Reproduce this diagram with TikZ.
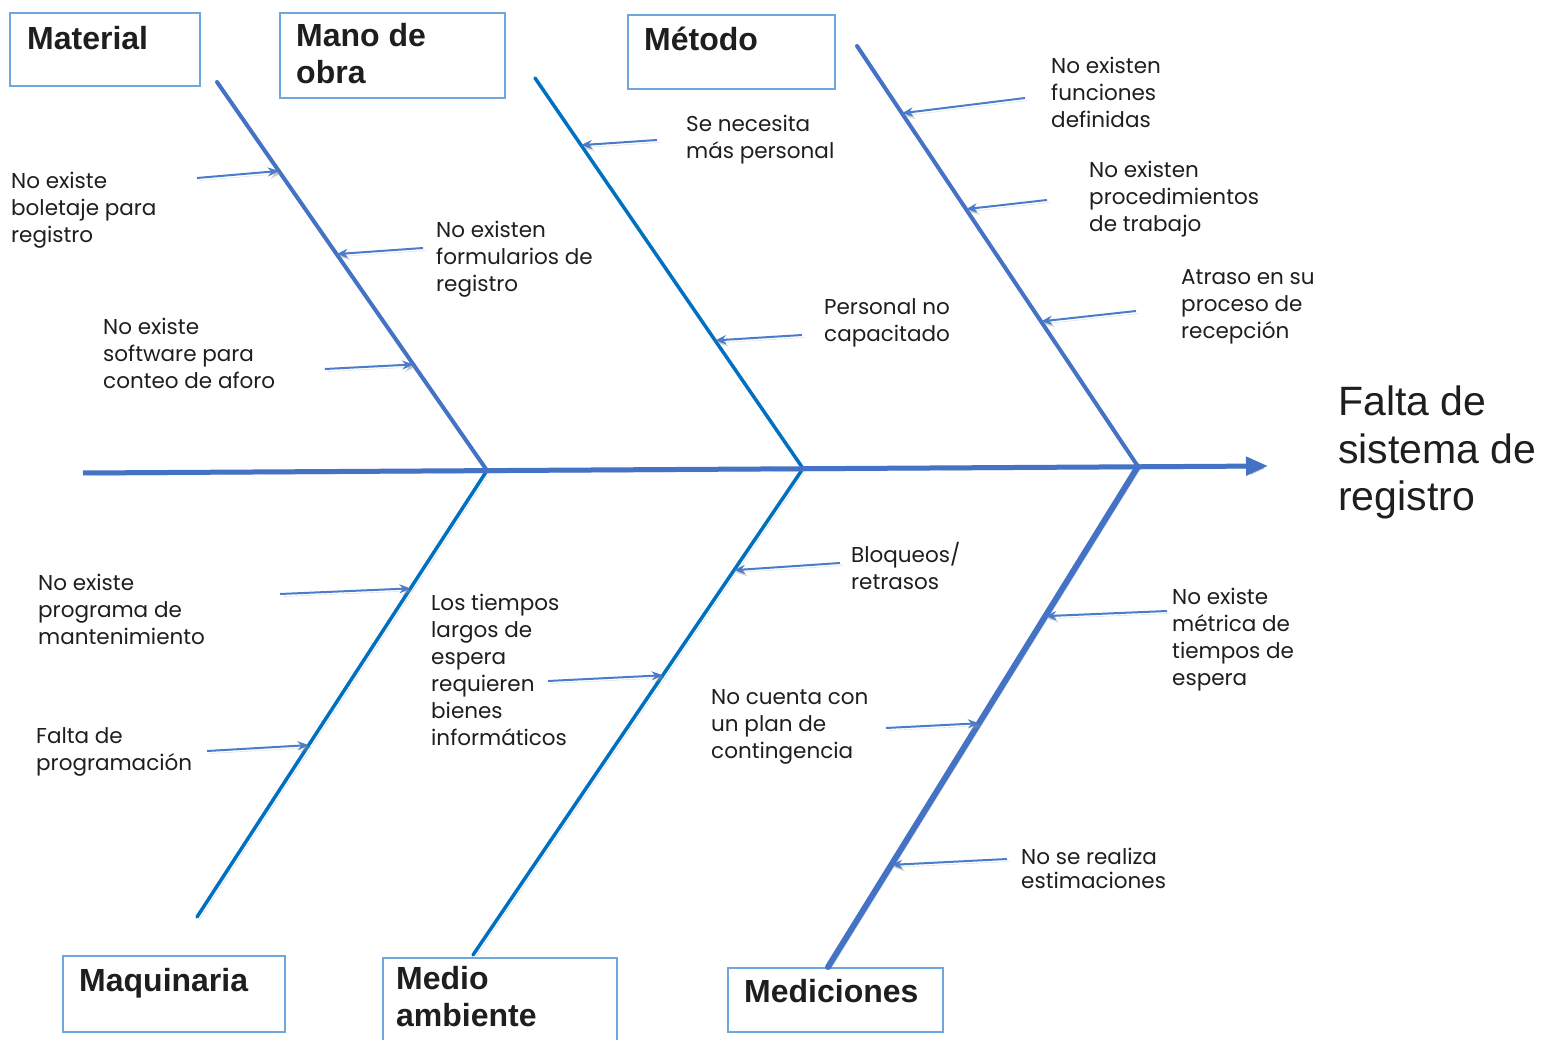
\documentclass[tikz,border=0pt]{standalone}
\usepackage{fontspec}
\setmainfont{Liberation Sans}
\newfontfamily\causefont{Poppins}
\usetikzlibrary{arrows.meta,calc}

\definecolor{spineblue}{HTML}{4472C4}
\definecolor{boneblue}{HTML}{0070C0}
\definecolor{twigblue}{HTML}{4A7CCB}
\definecolor{boxblue}{HTML}{6FA6DC}
\definecolor{ink}{HTML}{1E1E1E}

\tikzset{
  shadowed/.style={preaction={draw=black!45, opacity=0.35,
      transform canvas={shift={(2.5,2.5)}}}},
  spine/.style={draw=spineblue, line width=5pt, shadowed,
      -{Triangle[length=22pt,width=18pt]}},
  bone/.style={line width=4pt, line cap=round, shadowed},
  twig/.style={draw=twigblue, line width=2pt, shadowed,
      -{Stealth[length=11pt,width=9pt]}},
  catbox/.style={draw=boxblue, line width=1.8pt, anchor=north west,
      inner sep=0pt},
  cattext/.style={anchor=north west, inner sep=0pt, text=ink,
      font=\bfseries\fontsize{32}{37}\selectfont, align=left},
  cause/.style={anchor=north west, inner sep=0pt, text=ink,
      font=\causefont\fontsize{21.5}{27}\selectfont, align=left},
  effect/.style={anchor=north west, inner sep=0pt, text=ink,
      font=\fontsize{41}{47.5}\selectfont, align=left},
}

\begin{document}
\begin{tikzpicture}[x=1pt,y=-1pt]
\useasboundingbox (0,0) rectangle (1554,1040);

% spine junctions and bone ends
\coordinate (tail) at (83,473);
\coordinate (j1) at (487,470.5);
\coordinate (j2) at (803,468.5);
\coordinate (j3) at (1138,466.5);
\coordinate (head) at (1268,466);
\coordinate (matTop) at (217,82);
\coordinate (manTop) at (535,78);
\coordinate (metTop) at (857,46);
\coordinate (maqBot) at (197,917);
\coordinate (medBot) at (473,955);
\coordinate (mciBot) at (828,967);

% category boxes and titles
\node[catbox, minimum width=190pt, minimum height=73pt] (matbox) at (9,12) {};
\node[cattext] (mat) at (27,26) {Material};
\node[catbox, minimum width=225pt, minimum height=85pt] (manbox) at (279,12) {};
\node[cattext] (man) at (296,23) {Mano de\\obra};
\node[catbox, minimum width=207pt, minimum height=74pt] (metbox) at (627,14) {};
\node[cattext] (met) at (644,27) {Método};
\node[catbox, minimum width=222pt, minimum height=76pt] (maqbox) at (62,955) {};
\node[cattext] (maq) at (79,968) {Maquinaria};
\node[catbox, minimum width=234pt, minimum height=95pt] (medbox) at (382,957) {};
\node[cattext] (med) at (396,966) {Medio\\ambiente};
\node[catbox, minimum width=215pt, minimum height=64pt] (mcibox) at (727,967) {};
\node[cattext] (mci) at (744,979) {Mediciones};

% effect
\node[effect] (effect) at (1338,386) {Falta de\\sistema de\\registro};

% bones
\draw[bone, draw=spineblue] (matTop) -- (j1);
\draw[bone, draw=boneblue, line width=3.5pt] (manTop) -- (j2);
\draw[bone, draw=spineblue] (metTop) -- (j3);
\draw[bone, draw=boneblue, line width=3.5pt] (maqBot) -- (j1);
\draw[bone, draw=boneblue, line width=3.5pt] (medBot) -- (j2);
\draw[bone, draw=spineblue, line width=6pt] (mciBot) -- (j3);
\draw[spine] (tail) -- (head);

% attachment points on the bones
\coordinate (e1) at ($(matTop)!0.229!(j1)$);
\coordinate (e2) at ($(matTop)!0.443!(j1)$);
\coordinate (e3) at ($(matTop)!0.727!(j1)$);
\coordinate (e4) at ($(manTop)!0.172!(j2)$);
\coordinate (e5) at ($(manTop)!0.672!(j2)$);
\coordinate (e6) at ($(metTop)!0.160!(j3)$);
\coordinate (e7) at ($(metTop)!0.388!(j3)$);
\coordinate (e8) at ($(metTop)!0.655!(j3)$);
\coordinate (e9) at ($(maqBot)!0.736!(j1)$);
\coordinate (e10) at ($(maqBot)!0.385!(j1)$);
\coordinate (e11) at ($(medBot)!0.575!(j2)$);
\coordinate (e12) at ($(medBot)!0.791!(j2)$);
\coordinate (e13) at ($(mciBot)!0.701!(j3)$);
\coordinate (e14) at ($(mciBot)!0.487!(j3)$);
\coordinate (e15) at ($(mciBot)!0.204!(j3)$);

% free ends of the cause arrows
\coordinate (s1) at (197,178);
\coordinate (s2) at (423,248);
\coordinate (s3) at (325,369);
\coordinate (s4) at (657,140);
\coordinate (s5) at (802,335);
\coordinate (s6) at (1025,98);
\coordinate (s7) at (1047,200);
\coordinate (s8) at (1136,311);
\coordinate (s9) at (280,594);
\coordinate (s10) at (207,751);
\coordinate (s11) at (548,681);
\coordinate (s12) at (840,563);
\coordinate (s13) at (1167,611);
\coordinate (s14) at (886,728);
\coordinate (s15) at (1007,859);

\foreach \i in {1,...,15} {\draw[twig] (s\i) -- (e\i);}

% causes
\node[cause] (c1) at (11,172) {No existe\\boletaje para\\registro};
\node[cause] (c2) at (436,221) {No existen\\formularios de\\registro};
\node[cause] (c3) at (103,318) {No existe\\software para\\conteo de aforo};
\node[cause] (c4) at (686,115) {Se necesita\\más personal};
\node[cause] (c5) at (824,298) {Personal no\\capacitado};
\node[cause] (c6) at (1051,57) {No existen\\funciones\\definidas};
\node[cause] (c7) at (1089,161) {No existen\\procedimientos\\de trabajo};
\node[cause] (c8) at (1181,269) {Atraso en su\\proceso de\\recepción};
\node[cause] (c9) at (38,574) {No existe\\programa de\\mantenimiento};
\node[cause] (c10) at (36,727) {Falta de\\programación};
\node[cause] (c11) at (431,594) {Los tiempos\\largos de\\espera\\requieren\\bienes\\informáticos};
\node[cause] (c12) at (851,542) {Bloqueos/\\retrasos};
\node[cause] (c13) at (1172,588) {No existe\\métrica de\\tiempos de\\espera};
\node[cause] (c14) at (711,689) {No cuenta con\\un plan de\\contingencia};
\node[cause, font=\causefont\fontsize{21.5}{24}\selectfont] (c15) at (1021,848) {No se realiza\\estimaciones};
\end{tikzpicture}
\end{document}
